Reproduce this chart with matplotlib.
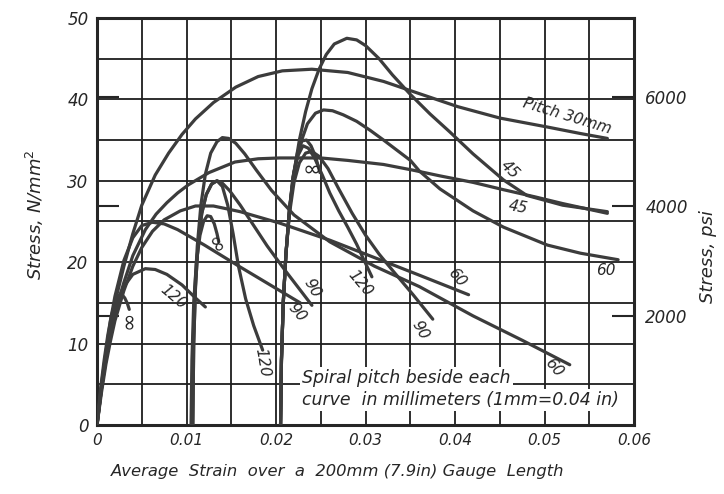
import matplotlib
matplotlib.use("Agg")
import matplotlib.pyplot as plt
from matplotlib.ticker import MultipleLocator

# ---------------- data (strain, stress N/mm^2) ----------------
g0_30_x = [0, 0.0005, 0.001, 0.0015, 0.002, 0.003, 0.004, 0.005, 0.0065, 0.008, 0.0095, 0.011, 0.013, 0.0155, 0.018, 0.0207, 0.024, 0.028, 0.032, 0.036, 0.0403, 0.045, 0.0503, 0.054, 0.057]
g0_30_y = [0, 4.5, 8.5, 12, 15, 19.5, 23.5, 27, 30.7, 33.4, 35.7, 37.6, 39.6, 41.5, 42.8, 43.5, 43.7, 43.3, 42.2, 40.7, 39.1, 37.7, 36.6, 35.8, 35.2]

g0_45_x = [0, 0.0005, 0.001, 0.0015, 0.002, 0.003, 0.004, 0.0054, 0.0066, 0.0078, 0.009, 0.0102, 0.0125, 0.0154, 0.018, 0.0204, 0.025, 0.028, 0.032, 0.0353, 0.0383, 0.042, 0.0454, 0.049, 0.052, 0.057]
g0_45_y = [0, 4.5, 8, 11.2, 13.8, 17.5, 20.8, 24, 25.9, 27.3, 28.5, 29.5, 31, 32.3, 32.7, 32.8, 32.8, 32.5, 32, 31.3, 30.6, 29.8, 28.9, 28, 27.2, 26.0]

g0_60_x = [0, 0.0005, 0.001, 0.0015, 0.002, 0.003, 0.004, 0.005, 0.0062, 0.0075, 0.0093, 0.011, 0.013, 0.016, 0.0204, 0.026, 0.0316, 0.036, 0.0415]
g0_60_y = [0, 4, 7.5, 10.3, 12.8, 16.5, 19.5, 21.8, 23.8, 25.2, 26.3, 26.9, 26.9, 26.2, 24.8, 22.7, 20.3, 18.4, 16.0]

g0_90_x = [0, 0.0005, 0.001, 0.0015, 0.002, 0.003, 0.004, 0.005, 0.0062, 0.0075, 0.009, 0.012, 0.016, 0.0195, 0.0227]
g0_90_y = [0, 5, 9, 12.8, 15.8, 20.2, 23, 24.5, 24.9, 24.7, 24, 22.1, 19.4, 17.1, 15.0]

g0_120_x = [0, 0.0005, 0.001, 0.0016, 0.0023, 0.003, 0.004, 0.0054, 0.0065, 0.0078, 0.0095, 0.011, 0.0121]
g0_120_y = [0, 4.5, 8.5, 12.5, 15.4, 17, 18.5, 19.2, 19.1, 18.5, 17.2, 15.6, 14.5]

g0_inf_x = [0, 0.0004, 0.0008, 0.0012, 0.0016, 0.002, 0.0024, 0.0028, 0.0031, 0.0034, 0.0036]
g0_inf_y = [0, 4.5, 8, 11, 13.4, 15, 15.9, 16, 15.6, 14.9, 14.2]

g1_inf_x = [0.0105, 0.0106, 0.0108, 0.0111, 0.0115, 0.0119, 0.0123, 0.0127, 0.0131, 0.0134, 0.0136]
g1_inf_y = [0, 8, 15, 20, 23.3, 25, 25.7, 25.6, 24.7, 23.5, 22.5]

g1_60_x = [0.0106, 0.0107, 0.0109, 0.0112, 0.0116, 0.0121, 0.0127, 0.0134, 0.014, 0.0147, 0.0155, 0.0165, 0.0178, 0.0195, 0.022, 0.026, 0.031, 0.036, 0.042, 0.0475, 0.0528]
g1_60_y = [0, 9, 16, 22, 27, 30.8, 33.4, 34.8, 35.3, 35.2, 34.6, 33.3, 31.3, 28.8, 25.8, 22.5, 19.5, 17.0, 13.4, 10.4, 7.4]

g1_90_x = [0.0107, 0.0108, 0.011, 0.0113, 0.0117, 0.0122, 0.0128, 0.0134, 0.014, 0.0148, 0.016, 0.0175, 0.019, 0.021, 0.024]
g1_90_y = [0, 10, 17, 22.5, 26, 28.3, 29.6, 30, 29.7, 28.8, 27, 24.5, 22, 19, 14.7]

g1_120_x = [0.0107, 0.0108, 0.011, 0.0113, 0.0117, 0.0122, 0.0128, 0.0134, 0.014, 0.0146, 0.0152, 0.0158, 0.0166, 0.0175, 0.0185]
g1_120_y = [0, 10, 17, 22.5, 26, 28.3, 29.6, 30, 29.3, 27, 23.5, 19.5, 15.5, 12.2, 9.2]

g2_45_x = [0.0205, 0.0206, 0.0208, 0.0211, 0.0215, 0.022, 0.0226, 0.0233, 0.024, 0.0248, 0.0256, 0.0265, 0.0279, 0.029, 0.030, 0.0315, 0.033, 0.035, 0.0372, 0.0394, 0.042, 0.0454, 0.048, 0.052, 0.057]
g2_45_y = [0, 8, 15, 21, 26.5, 31, 35, 38.5, 41.3, 43.7, 45.5, 46.8, 47.5, 47.3, 46.6, 45, 43, 40.6, 38.2, 36, 33.3, 30.1, 28.2, 27, 26.2]

g2_60_x = [0.0205, 0.0206, 0.0208, 0.0211, 0.0215, 0.022, 0.0227, 0.0235, 0.0244, 0.0253, 0.0263, 0.0275, 0.029, 0.0305, 0.032, 0.035, 0.036, 0.0383, 0.042, 0.0454, 0.0503, 0.054, 0.0582]
g2_60_y = [0, 8, 15, 21, 26.5, 31, 34.5, 37, 38.3, 38.7, 38.6, 38.1, 37.3, 36.2, 35, 32.5, 31.2, 29.0, 26.3, 24.3, 22.1, 21.1, 20.3]

g2_inf_x = [0.0205, 0.0206, 0.0208, 0.0211, 0.0215, 0.0219, 0.0224, 0.0229, 0.0234, 0.0239, 0.0244, 0.0249]
g2_inf_y = [0, 8, 15, 21, 26.5, 30.5, 33.5, 34.9, 35, 34.3, 33, 31]

g2_120_x = [0.0205, 0.0206, 0.0208, 0.0211, 0.0215, 0.0219, 0.0224, 0.023, 0.0236, 0.0243, 0.0252, 0.026, 0.027, 0.028, 0.029, 0.0298, 0.0307]
g2_120_y = [0, 8, 15, 21, 26.5, 30.5, 33, 34.3, 34, 32.8, 30.6, 28.5, 26.3, 24.3, 22.2, 20.3, 18.2]

g2_90_x = [0.0205, 0.0206, 0.0208, 0.0211, 0.0215, 0.022, 0.0226, 0.0233, 0.024, 0.0248, 0.0258, 0.027, 0.0285, 0.030, 0.0315, 0.033, 0.0353, 0.0375]
g2_90_y = [0, 8, 15, 21, 26, 29.8, 32.2, 33.4, 33.6, 33, 31.5, 29, 26, 23.3, 21, 19, 16, 13]

curves = [
    (g0_30_x, g0_30_y), (g0_45_x, g0_45_y), (g0_60_x, g0_60_y), (g0_90_x, g0_90_y),
    (g0_120_x, g0_120_y), (g0_inf_x, g0_inf_y),
    (g1_inf_x, g1_inf_y), (g1_60_x, g1_60_y), (g1_90_x, g1_90_y), (g1_120_x, g1_120_y),
    (g2_45_x, g2_45_y), (g2_60_x, g2_60_y), (g2_inf_x, g2_inf_y), (g2_120_x, g2_120_y), (g2_90_x, g2_90_y),
]

# curve labels: text, x, y, rotation
label_text = ["Pitch 30mm", "45", "45", "60", "60", "60", "90", "120", "90", "90", "120", "\u221e", "\u221e", "120", "\u221e"]
label_x = [0.0525, 0.0461, 0.0470, 0.0568, 0.0402, 0.0510, 0.0361, 0.0294, 0.0223, 0.0240, 0.0184, 0.0240, 0.0132, 0.0085, 0.0035]
label_y = [37.9, 31.3, 26.7, 19.0, 18.1, 7.0, 11.7, 17.4, 13.8, 16.8, 7.7, 31.4, 22.1, 15.7, 12.9]
label_rot = [-17, -45, -10, 0, -50, -50, -60, -50, -50, -60, -80, 0, -60, -40, 90]

x_ticks = [0, 0.01, 0.02, 0.03, 0.04, 0.05, 0.06]
x_ticklabels = ["0", "0.01", "0.02", "0.03", "0.04", "0.05", "0.06"]
y_ticks = [0, 10, 20, 30, 40, 50]
psi_ticks = [2000, 4000, 6000]
psi_per_mpa = 149.0

INK = "#262626"
LINE = "#3c3c3c"
FONT = dict(family="DejaVu Sans", style="italic", color=INK)

fig = plt.figure(figsize=(7.24, 4.94), dpi=100)
ax = fig.add_axes([0.134, 0.1397, 0.742, 0.824])
ax.set_xlim(0, 0.06)
ax.set_ylim(0, 50)

ax.xaxis.set_minor_locator(MultipleLocator(0.005))
ax.yaxis.set_minor_locator(MultipleLocator(5))
ax.set_xticks(x_ticks)
ax.set_xticklabels(x_ticklabels, fontsize=11, **FONT)
ax.set_yticks(y_ticks)
ax.set_yticklabels([str(v) for v in y_ticks], fontsize=12, **FONT)
ax.tick_params(which="both", length=0, pad=6)
ax.grid(True, which="both", color="#1e1e1e", lw=1.3)
ax.set_axisbelow(True)
for s in ax.spines.values():
    s.set_linewidth(2.2)
    s.set_color(INK)

for xs, ys in curves:
    ax.plot(xs, ys, color=LINE, lw=2.3, solid_capstyle="round", solid_joinstyle="round", zorder=3)

for t, x, y, r in zip(label_text, label_x, label_y, label_rot):
    fs = 16 if t == "\u221e" else 11
    ax.text(x, y, t, rotation=r, ha="center", va="center", fontsize=fs,
            zorder=5, rotation_mode="anchor", **FONT)

# note text with white background
ax.text(0.0229, 5.8, "Spiral pitch beside each", fontsize=12.5, ha="left", va="center",
        zorder=6, bbox=dict(fc="white", ec="none", pad=1.5), **FONT)
ax.text(0.0229, 3.1, "curve  in millimeters (1mm=0.04 in)", fontsize=12.5, ha="left", va="center",
        zorder=6, bbox=dict(fc="white", ec="none", pad=1.5), **FONT)

# psi axes (inward ticks on both sides)
conv = (lambda v: v * psi_per_mpa, lambda v: v / psi_per_mpa)
right = ax.secondary_yaxis("right", functions=conv)
right.set_yticks(psi_ticks)
right.set_yticklabels([str(v) for v in psi_ticks], fontsize=12, **FONT)
right.tick_params(direction="in", length=16, width=1.5, pad=8, color=INK)
right.spines["right"].set_visible(False)
left = ax.secondary_yaxis("left", functions=conv)
left.set_yticks(psi_ticks)
left.set_yticklabels(["", "", ""])
left.tick_params(direction="in", length=16, width=1.5, color=INK)
left.spines["left"].set_visible(False)

fig.text(0.467, 0.045, "Average  Strain  over  a  200mm (7.9in) Gauge  Length", ha="center", va="center",
         fontsize=11.8, **FONT)
fig.text(0.048, 0.565, "Stress, N/mm$^2$", rotation=90, ha="center", va="center", fontsize=13, **FONT)
fig.text(0.978, 0.48, "Stress, psi", rotation=90, ha="center", va="center", fontsize=13, **FONT)

fig.savefig("out.png", dpi=100, facecolor="white")
